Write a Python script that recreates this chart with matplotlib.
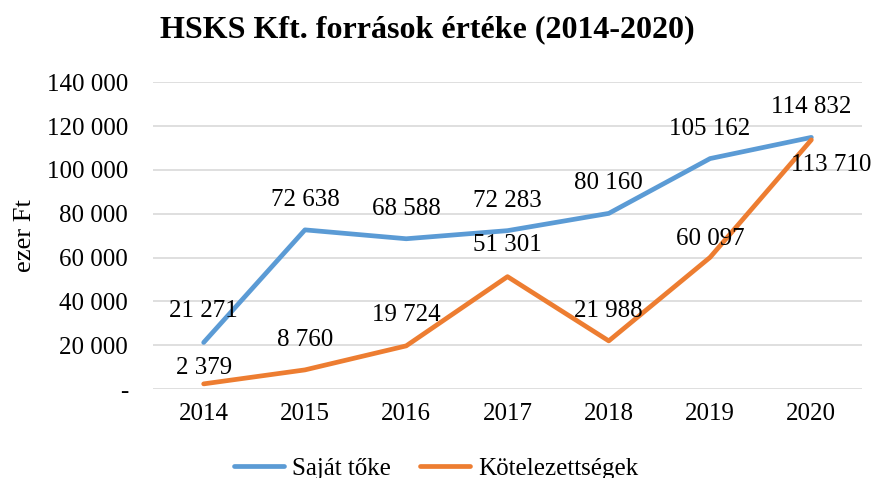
import matplotlib
matplotlib.use("Agg")
import matplotlib.pyplot as plt

years = ["2014", "2015", "2016", "2017", "2018", "2019", "2020"]
sajat_toke = [21271, 72638, 68588, 72283, 80160, 105162, 114832]
kotelezettsegek = [2379, 8760, 19724, 51301, 21988, 60097, 113710]
y_ticks = [0, 20000, 40000, 60000, 80000, 100000, 120000, 140000]


def fmt(v):
    # Hungarian style: space as thousands separator, zero shown as "-"
    if v == 0:
        return "-"
    return f"{v:,}".replace(",", " ")


plt.rcParams['font.family'] = ['Liberation Serif', 'DejaVu Serif']
fs = 18

fig = plt.figure(figsize=(8.72, 4.78), dpi=100)
ax = fig.add_axes([0.1755, 0.186, 0.813, 0.642])

blue = "#5B9BD5"
orange = "#ED7D31"
x = list(range(len(years)))

ax.plot(x, sajat_toke, color=blue, lw=3.4, solid_capstyle="round", label="Saját tőke", zorder=3)
ax.plot(x, kotelezettsegek, color=orange, lw=3.4, solid_capstyle="round", label="Kötelezettségek", zorder=3)

# data labels (offsets in pixels)
off_blue = [(0, 31), (0, 30), (0, 30), (0, 30), (0, 30), (0, 30), (0, 30)]
off_orange = [(0, 16), (0, 30), (0, 31), (0, 32), (0, 30), (0, 18), (-20, -25)]
for i, v in enumerate(sajat_toke):
    ax.annotate(fmt(v), (i, v), xytext=off_blue[i], textcoords="offset pixels",
                ha="center", va="center", fontsize=fs, zorder=4)
for i, v in enumerate(kotelezettsegek):
    ax.annotate(fmt(v), (i, v), xytext=off_orange[i], textcoords="offset pixels",
                ha="left" if i == len(years) - 1 else "center", va="center",
                fontsize=fs, zorder=4)

ax.set_xlim(-0.5, len(years) - 0.5)
ax.set_ylim(0, 140000)
ax.set_yticks(y_ticks)
ax.set_yticklabels([fmt(t) for t in y_ticks], fontsize=fs)
ax.set_xticks(x)
ax.set_xticklabels(years, fontsize=fs)
ax.tick_params(length=0)
ax.tick_params(axis="x", pad=10)
ax.tick_params(axis="y", pad=18)
ax.grid(axis="y", color="#D9D9D9", lw=1.2)
ax.set_axisbelow(True)
for s in ["top", "right", "left", "bottom"]:
    ax.spines[s].set_visible(False)

ax.set_ylabel("ezer Ft", fontsize=19, labelpad=8)
fig.text(0.49, 0.937, "HSKS Kft. források értéke (2014-2020)", ha="center", va="center",
         fontsize=23, fontweight="bold")

fig.legend(loc="center", bbox_to_anchor=(0.5, 0.02), ncol=2, frameon=False,
           fontsize=fs, handlelength=2.0, columnspacing=1.2, handletextpad=0.3)

fig.savefig("out.png", dpi=100)
